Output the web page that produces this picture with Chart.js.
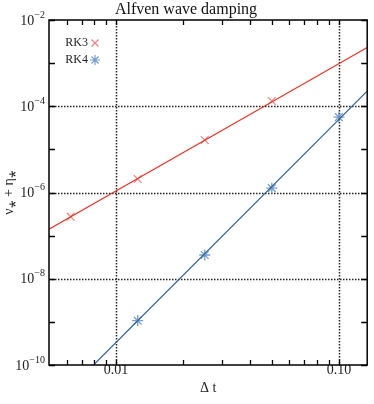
<!DOCTYPE html>
<html><head><meta charset="utf-8">
<script src="https://cdn.jsdelivr.net/npm/chart.js@4/dist/chart.umd.min.js"></script>
<style>html,body{margin:0;padding:0;background:#fff}#wrap{width:374px;height:404px}</style>
</head><body><div id="wrap"><canvas id="c" width="374" height="404" style="width:374px;height:404px"></canvas></div>
<script>
// ---- data ----
const rk3Dt = [0.00625, 0.0125, 0.025, 0.05];
const rk3Values = [2.75e-7, 2.05e-6, 1.65e-5, 1.32e-4];
const rk4Dt = [0.0125, 0.025, 0.05, 0.1];
const rk4Values = [1.07e-9, 3.55e-8, 1.26e-6, 5.6e-5];
const fitDt = [0.005, 0.134];
const rk3Fit = [1.41e-7, 2.3e-3];
const rk4Fit = [9.3e-12, 2.24e-4];
const xTickValues = [0.01, 0.1];
const xTickLabels = ['0.01', '0.10'];
const xMinorTicks = [0.006, 0.007, 0.008, 0.009, 0.02, 0.03, 0.04, 0.05, 0.06, 0.07, 0.08, 0.09];
const yTickValues = [1e-2, 1e-4, 1e-6, 1e-8, 1e-10];
const yTickExponents = ['\u22122', '\u22124', '\u22126', '\u22128', '\u221210'];
const yMinorTicks = [1e-3, 1e-5, 1e-7, 1e-9];
const seriesNames = ['RK3', 'RK4'];
const titleText = 'Alfven wave damping';
const xTitle = '\u0394 t';
const yTitle = '\u03BD\u204E + \u03B7\u204E';

const SERIF = "'Liberation Serif','Times New Roman',serif";
const RED = '#e2372c', RED_M = 'rgba(232,110,105,0.85)';
const BLUE = '#2b5e8e', BLUE_M = 'rgba(95,145,195,0.85)';

const pts = (xs, ys) => xs.map((x, i) => ({x, y: ys[i]}));

const axesPlugin = {
  id: 'axesDeco',
  beforeDatasetsDraw(chart) {
    const {ctx, chartArea: a, scales: {x, y}} = chart;
    ctx.save();
    ctx.beginPath(); ctx.rect(a.left, a.top, a.right - a.left, a.bottom - a.top); ctx.clip();
    ctx.strokeStyle = '#222'; ctx.lineWidth = 1.5; ctx.setLineDash([1.5, 1.5]);
    xTickValues.forEach(v => { const px = Math.round(x.getPixelForValue(v)) + 0.5;
      ctx.beginPath(); ctx.moveTo(px, a.top); ctx.lineTo(px, a.bottom); ctx.stroke(); });
    yTickValues.forEach(v => { const py = Math.round(y.getPixelForValue(v)) + 0.5;
      if (py <= a.top + 2 || py >= a.bottom - 2) return;
      ctx.beginPath(); ctx.moveTo(a.left, py); ctx.lineTo(a.right, py); ctx.stroke(); });
    ctx.restore();
  },
  afterDatasetsDraw(chart) {
    const {ctx, chartArea: a, scales: {x, y}} = chart;
    ctx.save();
    ctx.strokeStyle = '#000'; ctx.lineWidth = 1.5; ctx.setLineDash([]);
    ctx.strokeRect(a.left, a.top, a.right - a.left, a.bottom - a.top);
    ctx.lineWidth = 1.3;
    const xt = xMinorTicks.concat(xTickValues);
    xt.forEach(v => { const px = Math.round(x.getPixelForValue(v)) + 0.5;
      ctx.beginPath(); ctx.moveTo(px, a.bottom); ctx.lineTo(px, a.bottom - 5);
      ctx.moveTo(px, a.top); ctx.lineTo(px, a.top + 5); ctx.stroke(); });
    const yt = yMinorTicks.concat(yTickValues);
    yt.forEach(v => { const py = Math.round(y.getPixelForValue(v)) + 0.5;
      ctx.beginPath(); ctx.moveTo(a.left, py); ctx.lineTo(a.left + 6, py);
      ctx.moveTo(a.right, py); ctx.lineTo(a.right - 6, py); ctx.stroke(); });
    // y tick labels with superscripts
    ctx.fillStyle = '#222'; ctx.textBaseline = 'middle';
    yTickValues.forEach((v, i) => {
      const py = y.getPixelForValue(v);
      ctx.font = '10px ' + SERIF; ctx.textAlign = 'right';
      const ew = ctx.measureText(yTickExponents[i]).width;
      ctx.fillText(yTickExponents[i], a.left - 4, py - 5);
      ctx.font = '14px ' + SERIF;
      ctx.fillText('10', a.left - 4 - ew, py + 1);
    });
    // y title
    ctx.save();
    ctx.translate(9, (a.top + a.bottom) / 2); ctx.rotate(-Math.PI / 2);
    ctx.textAlign = 'center'; ctx.font = '14px ' + SERIF; ctx.fillText(yTitle, 0, 0);
    ctx.restore();
    // legend
    ctx.font = '12px ' + SERIF; ctx.textAlign = 'right'; ctx.fillStyle = '#222';
    const lx = 88, ly = [43, 60];
    seriesNames.forEach((n, i) => ctx.fillText(n, lx, ly[i]));
    ctx.strokeStyle = RED_M; ctx.lineWidth = 1.2;
    Chart.helpers.drawPoint(ctx, {pointStyle: 'crossRot', radius: 5, borderWidth: 1.2}, 95, ly[0]);
    ctx.strokeStyle = BLUE_M;
    Chart.helpers.drawPoint(ctx, {pointStyle: 'star', radius: 5, borderWidth: 1.2}, 95, ly[1]);
    ctx.restore();
  }
};

new Chart(document.getElementById('c'), {
  data: {
    datasets: [
      {type: 'line', data: pts(fitDt, rk3Fit), borderColor: RED, borderWidth: 1.2, pointRadius: 0, clip: 0},
      {type: 'line', data: pts(fitDt, rk4Fit), borderColor: BLUE, borderWidth: 1.2, pointRadius: 0, clip: 0},
      {type: 'scatter', label: seriesNames[0], data: pts(rk3Dt, rk3Values), pointStyle: 'crossRot',
       pointRadius: 5.5, pointBorderColor: RED_M, pointBorderWidth: 1.2, borderColor: RED_M},
      {type: 'scatter', label: seriesNames[1], data: pts(rk4Dt, rk4Values), pointStyle: 'star',
       pointRadius: 5.5, pointBorderColor: BLUE_M, pointBorderWidth: 1.3, borderColor: BLUE_M}
    ]
  },
  options: {
    responsive: false, animation: false, devicePixelRatio: 1,
    layout: {padding: {left: 0, right: 2, top: 0, bottom: 0}},
    plugins: {
      legend: {display: false}, tooltip: {enabled: false},
      title: {display: true, text: titleText, color: '#111',
        font: {family: SERIF, size: 16, weight: 'normal', lineHeight: 1}, padding: {top: 2, bottom: 2}}
    },
    scales: {
      x: {type: 'logarithmic', position: 'bottom', min: 0.005, max: 0.134,
        grid: {display: false, drawTicks: false, tickLength: 0}, border: {display: false},
        afterBuildTicks: s => { s.ticks = xTickValues.map(v => ({value: v})); },
        ticks: {color: '#222', font: {family: SERIF, size: 14, lineHeight: 1}, padding: -2, maxRotation: 0,
          callback: (v) => xTickLabels[xTickValues.indexOf(v)] ?? ''},
        title: {display: true, text: xTitle, color: '#222', font: {family: SERIF, size: 14, lineHeight: 1}, padding: {top: 0, bottom: 9}},
        afterFit: s => { s.height = 39; }
      },
      y: {type: 'logarithmic', min: 1e-10, max: 1e-2,
        grid: {display: false}, border: {display: false},
        ticks: {display: false},
        afterFit: s => { s.width = 49; }
      }
    }
  },
  plugins: [axesPlugin]
});
</script></body></html>
